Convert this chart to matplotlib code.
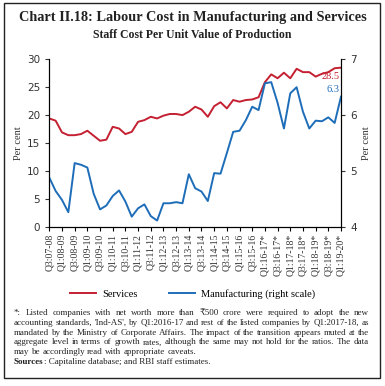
import numpy as np
import matplotlib
matplotlib.use("Agg")
import matplotlib.pyplot as plt
from matplotlib.patches import Rectangle

# Staff cost per unit value of production (per cent), Q3:2007-08 to Q1:2019-20
services = [19.4, 19.0, 16.9, 16.4, 16.4, 16.6, 17.2, 16.3, 15.4, 15.6, 17.9, 17.6,
            16.6, 17.0, 18.8, 19.1, 19.7, 19.4, 19.9, 20.2, 20.2, 20.0, 20.6, 21.5,
            21.0, 19.7, 21.6, 22.3, 21.2, 22.7, 22.4, 22.7, 22.8, 23.2, 25.9, 27.3,
            26.6, 27.6, 26.6, 28.3, 27.7, 27.7, 26.9, 27.4, 27.7, 28.4, 28.5]
manufacturing = [4.88, 4.64, 4.48, 4.26, 5.14, 5.11, 5.06, 4.59, 4.31, 4.38, 4.55, 4.65,
                 4.45, 4.18, 4.33, 4.40, 4.19, 4.11, 4.42, 4.42, 4.44, 4.42, 4.94, 4.69,
                 4.63, 4.46, 4.96, 4.95, 5.32, 5.70, 5.72, 5.91, 6.15, 6.09, 6.57, 6.59,
                 6.22, 5.76, 6.39, 6.50, 6.06, 5.76, 5.90, 5.89, 5.96, 5.86, 6.33]
tick_labels = ["Q3:07-08", "Q1:08-09", "Q3:08-09", "Q1:09-10", "Q3:09-10", "Q1:10-11",
               "Q3:10-11", "Q1:11-12", "Q3:11-12", "Q1:12-13", "Q3:12-13", "Q1:13-14",
               "Q3:13-14", "Q1:14-15", "Q3:14-15", "Q1:15-16", "Q3:15-16", "Q1:16-17*",
               "Q3:16-17*", "Q1:17-18*", "Q3:17-18*", "Q1:18-19*", "Q3:18-19*", "Q1:19-20*"]

red = "#C42032"
blue = "#1E6DB8"
ink = "#222222"
serif = ["Liberation Serif", "DejaVu Serif", "DejaVu Sans"]
plt.rcParams["font.family"] = serif

fig = plt.figure(figsize=(3.85, 3.86), dpi=100)
W, H = 385.0, 386.0

# outer frame
fig.patches.append(Rectangle((4 / W, 8 / H), 376 / W, 375 / H, transform=fig.transFigure,
                             fill=False, edgecolor=ink, linewidth=1.0))

fig.text(0.5, 1 - 18 / H, "Chart II.18: Labour Cost in Manufacturing and Services",
         ha="center", va="center", fontsize=10.3, fontweight="bold", color=ink)
fig.text(0.5, 1 - 35 / H, "Staff Cost Per Unit Value of Production",
         ha="center", va="center", fontsize=8.5, fontweight="bold", color=ink)

ax = fig.add_axes([49.3 / W, 1 - 226.7 / H, (341 - 49.3) / W, (226.7 - 59.3) / H])
ax2 = ax.twinx()

x = np.arange(len(services))
l1, = ax.plot(x, services, color=red, lw=1.4, label="Services")
l2, = ax2.plot(x, manufacturing, color=blue, lw=1.4, label="Manufacturing (right scale)")

ax.set_xlim(0, len(services) - 1)
ax.set_ylim(0, 30)
ax.set_yticks(range(0, 31, 5))
ax2.set_ylim(4, 7)
ax2.set_yticks([4, 5, 6, 7])

ax.set_xticks(x[::2])
ax.set_xticklabels(tick_labels, rotation=90, fontsize=7, color="#333333")

for a in (ax, ax2):
    a.spines["top"].set_visible(False)
    for s in a.spines.values():
        s.set_linewidth(0.8)
    a.tick_params(axis="y", labelsize=7.5, colors="#333333", length=3, width=0.8)
    for lab in a.get_yticklabels():
        lab.set_family("DejaVu Sans")
ax.tick_params(axis="x", length=3, width=0.8, pad=2)

ax.set_ylabel("Per cent", fontsize=7.5, color="#333333", labelpad=3)
ax2.set_ylabel("Per cent", fontsize=7.5, color="#333333", labelpad=4, rotation=90)

ax.text(x[-1] - 0.2, services[-1] - 0.7, f"{services[-1]:.1f}", color=red,
        ha="right", va="top", fontsize=7.5)
ax2.text(x[-1] - 0.2, manufacturing[-1] + 0.05, f"{manufacturing[-1]:.1f}", color=blue,
         ha="right", va="bottom", fontsize=7.5)

fig.legend(handles=[l1, l2], loc="center", bbox_to_anchor=(0.5, 1 - 294 / H), ncol=2,
           frameon=False, fontsize=7.5, handlelength=2.5, columnspacing=3.0, handletextpad=0.6)

# footnote, justified between x0 and x1
notes = [
    "*: Listed companies with net worth more than \u20b9500 crore were required to adopt the new",
    "accounting standards, 'Ind-AS', by Q1:2016-17 and rest of the listed companies by Q1:2017-18, as",
    "mandated by the Ministry of Corporate Affairs. The impact of the transition appears muted at the",
    "aggregate level in terms of growth rates, although the same may not hold for the ratios. The data",
    "may be accordingly read with appropriate caveats.",
]
x0, x1 = 14.0, 369.0
y0 = 313.0
dy = 9.8
r = fig.canvas.get_renderer()


def width_px(s, fs, **kw):
    t = fig.text(0, 0, s, fontsize=fs, **kw)
    w = t.get_window_extent(r).width
    t.remove()
    return w


# largest font size whose natural (single-space) lines still fit the width
fs = 7.4
while fs > 5.5 and max(width_px(l, fs) for l in notes) > (x1 - x0):
    fs -= 0.1
space = width_px("a b", fs) - width_px("ab", fs)

for i, line in enumerate(notes):
    yy = 1 - (y0 + i * dy) / H
    words = line.split(" ")
    widths = [width_px(w, fs) for w in words]
    if i < len(notes) - 1:
        gap = (x1 - x0 - sum(widths)) / (len(words) - 1)
    else:
        gap = space
    pos = x0
    for w, wd in zip(words, widths):
        fig.text(pos / W, yy, w, fontsize=fs, va="center", ha="left", color=ink)
        pos += wd + gap

ys = 1 - (y0 + 5 * dy) / H
sw = width_px("Sources", fs, fontweight="bold")
fig.text(x0 / W, ys, "Sources", fontsize=fs, fontweight="bold", va="center", ha="left", color=ink)
fig.text((x0 + sw) / W, ys, ": Capitaline database; and RBI staff estimates.", fontsize=fs,
         va="center", ha="left", color=ink)

fig.savefig("out.png", dpi=100)
